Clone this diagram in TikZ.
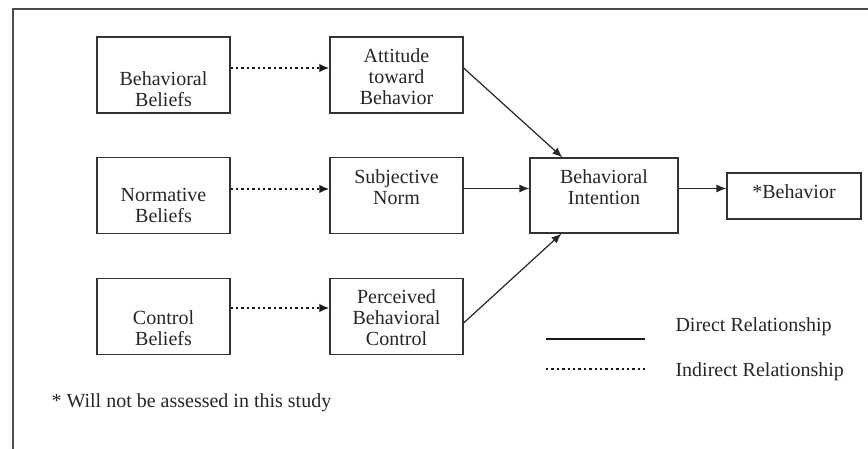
\documentclass[tikz,border=0pt]{standalone}
\usepackage{fontspec}
\setmainfont{Liberation Serif}
\usetikzlibrary{arrows.meta}
\tikzset{
  box/.style={draw=black!80, line width=1.2pt, minimum width=133pt, minimum height=76pt, inner sep=0pt},
  txt/.style={align=center, font=\fontsize{20}{21}\selectfont, text=black!85},
  direct/.style={draw=black!85, line width=1.2pt, -{Latex[length=10pt,width=8pt]}},
  indirect/.style={draw=black!90, line width=2.6pt, dash pattern=on 2.4pt off 3pt, -{Latex[length=10pt,width=8.5pt]}},
  frame/.style={draw=black!70, line width=1.5pt}
}
\begin{document}
\begin{tikzpicture}[x=1pt, y=-1pt]
        \useasboundingbox (0,0) rectangle (868,449);
        % outer frame
        \draw[frame] (13,449) -- (13,9) -- (868,9);

        % Draw the belief boxes
        \node[box, label={[txt,yshift=-14]center:Behavioral\\Beliefs}] (bb) at (163.5,75) {};
        \node[box, label={[txt,yshift=-10]center:Normative\\Beliefs}] (nb) at (163.5,195.5) {};
        \node[box, label={[txt,yshift=-12]center:Control\\Beliefs}] (cb) at (163.5,316.5) {};

        % Draw the middle boxes
        \node[box, label={[txt,yshift=-2]center:Attitude\\toward\\Behavior}] (att) at (396.5,75) {};
        \node[box, label={[txt,yshift=8]center:Subjective\\Norm}] (sn) at (396.5,195.5) {};
        \node[box, label={[txt,yshift=-1]center:Perceived\\Behavioral\\Control}] (pbc) at (396.5,316.5) {};

        % Intention and behavior
        \node[box, minimum width=148pt, minimum height=75pt, label={[txt,yshift=8]center:Behavioral\\Intention}] (bi) at (604,195.5) {};
        \node[box, minimum width=134pt, minimum height=46pt, label={[txt,yshift=4]center:*Behavior}] (beh) at (794,196) {};

        % Draw the arrows between the boxes
        \draw[indirect] ([yshift=7]bb.east) -- ([yshift=7]att.west);
        \draw[indirect] ([yshift=6.5]nb.east) -- ([yshift=6.5]sn.west);
        \draw[indirect] ([yshift=8.5]cb.east) -- ([yshift=8.5]pbc.west);
        \draw[direct] ([yshift=7]att.east) -- ([xshift=33]bi.north west);
        \draw[direct] ([yshift=7]sn.east) -- ([yshift=7]bi.west);
        \draw[direct] ([yshift=-6.5]pbc.east) -- ([xshift=32]bi.south west);
        \draw[direct] ([yshift=7]bi.east) -- ([yshift=7]bi.east -| beh.west);

        % Legend
        \coordinate (ds) at (546,339);
        \coordinate (de) at (645,339);
        \coordinate (is) at (546,369);
        \coordinate (ie) at (645,369);
        \draw[draw=black!90, line width=2.6pt] (ds) -- (de);
        \draw[draw=black!90, line width=2.6pt, dash pattern=on 2.4pt off 3pt] (is) -- (ie);
        \node[txt, anchor=west] (dlbl) at (672,327) {Direct Relationship};
        \node[txt, anchor=west] (ilbl) at (672,372) {Indirect Relationship};

        % footnote
        \node[txt, anchor=west] (note) at (48,403) {* Will not be assessed in this study};
    \end{tikzpicture}
\end{document}
